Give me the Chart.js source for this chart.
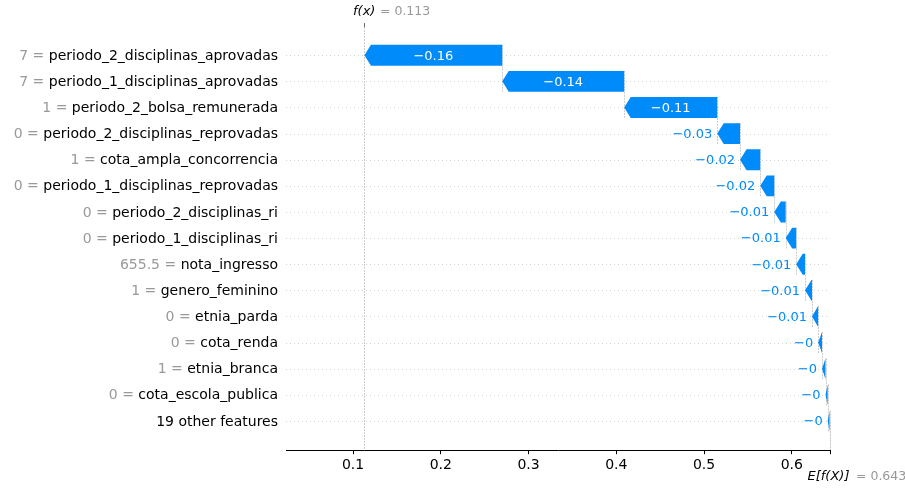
<!DOCTYPE html>
<html>
<head>
<meta charset="utf-8">
<script src="https://cdn.jsdelivr.net/npm/chart.js@4"></script>
<style>
  html, body { margin: 0; padding: 0; background: #fff; }
  #wrap { width: 905px; height: 488px; }
</style>
</head>
<body>
<div id="wrap"><canvas id="grafico" width="905" height="488"></canvas></div>
<script>
// Contribuições SHAP, de cima para baixo
const nomesFeatures = [
  'periodo_2_disciplinas_aprovadas',
  'periodo_1_disciplinas_aprovadas',
  'periodo_2_bolsa_remunerada',
  'periodo_2_disciplinas_reprovadas',
  'cota_ampla_concorrencia',
  'periodo_1_disciplinas_reprovadas',
  'periodo_2_disciplinas_ri',
  'periodo_1_disciplinas_ri',
  'nota_ingresso',
  'genero_feminino',
  'etnia_parda',
  'cota_renda',
  'etnia_branca',
  'cota_escola_publica',
  '19 other features'
];
const valoresFeatures = ['7', '7', '1', '0', '1', '0', '0', '0', '655.5', '1', '0', '0', '1', '0', null];
const valoresShap = [-0.157, -0.139, -0.106, -0.026, -0.023, -0.016, -0.013, -0.012, -0.010, -0.008, -0.007, -0.0044, -0.004, -0.0025, -0.0021];
const valorBase = 0.643;   // E[f(X)]
const valorSaida = 0.113;  // f(x)
const limitesX = [0.0236, 0.6435];

const AZUL = '#008bfb';
const CINZA = '#999999';
const FONTE = '"DejaVu Sans", sans-serif';

// mesmo formato do shap: remove zeros finais e usa o sinal de menos tipográfico
function formatarValor(v, casas) {
  let s = v.toFixed(casas).replace(/\.?0+$/, '');
  if (s[0] === '-') s = '\u2212' + s.slice(1);
  return s;
}

// cada barra parte de f(x) e caminha até E[f(X)]
const faixas = [];
let acumulado = valorSaida;
valoresShap.forEach(v => {
  faixas.push([acumulado, acumulado - v]);
  acumulado -= v;
});

const waterfall = {
  id: 'waterfall',
  beforeDatasetsDraw(chart) {
    const { ctx, chartArea: a, scales: { x, y } } = chart;
    ctx.save();
    // linhas pontilhadas de cada linha
    ctx.strokeStyle = '#d2d2d2';
    ctx.lineWidth = 1;
    ctx.setLineDash([1, 3]);
    nomesFeatures.forEach((_, i) => {
      const py = Math.round(y.getPixelForValue(i)) + 0.5;
      ctx.beginPath();
      ctx.moveTo(a.left, py);
      ctx.lineTo(a.right, py);
      ctx.stroke();
    });
    // ligações verticais tracejadas
    ctx.strokeStyle = '#cccccc';
    ctx.setLineDash([2, 1]);
    const linhaV = (valor, y0, y1) => {
      const px = Math.round(x.getPixelForValue(valor)) + 0.5;
      const t = Math.max(a.top, Math.min(y0, y1));
      const b = Math.min(a.bottom, Math.max(y0, y1));
      ctx.beginPath();
      ctx.moveTo(px, t);
      ctx.lineTo(px, b);
      ctx.stroke();
    };
    linhaV(valorSaida, a.top, a.bottom);
    linhaV(valorBase, a.bottom - (a.bottom - a.top) / nomesFeatures.length, a.bottom);
    faixas.forEach((f, i) => linhaV(f[1], y.getPixelForValue(i - 0.4), y.getPixelForValue(i + 1.4)));
    ctx.restore();
  },
  beforeDatasetDraw(chart, args) {
    const { ctx } = chart;
    const meta = args.meta;
    ctx.save();
    ctx.font = '13px ' + FONTE;
    ctx.textBaseline = 'middle';
    meta.data.forEach((el, i) => {
      const p = el.getProps(['x', 'base', 'y', 'height'], true);
      const l = Math.min(p.x, p.base), r = Math.max(p.x, p.base);
      const cabeca = Math.min(r - l, 6.5);
      const t = p.y - p.height / 2, b = p.y + p.height / 2;
      ctx.fillStyle = AZUL;
      ctx.beginPath();
      ctx.moveTo(r, t);
      ctx.lineTo(l + cabeca, t);
      ctx.lineTo(l, p.y);
      ctx.lineTo(l + cabeca, b);
      ctx.lineTo(r, b);
      ctx.closePath();
      ctx.fill();

      const txt = formatarValor(valoresShap[i], 2);
      const w = ctx.measureText(txt).width;
      if (w < r - l) {
        ctx.fillStyle = '#ffffff';
        ctx.textAlign = 'center';
        ctx.fillText(txt, (l + r) / 2, p.y + 1);
      } else {
        ctx.fillStyle = AZUL;
        ctx.textAlign = 'right';
        ctx.fillText(txt, l - 5, p.y + 1);
      }
    });
    ctx.restore();
    return false;
  },
  afterDraw(chart) {
    const { ctx, chartArea: a, scales: { x, y } } = chart;
    ctx.save();
    // rótulos das features: valor em cinza, nome em preto
    ctx.font = '14px ' + FONTE;
    ctx.textBaseline = 'middle';
    ctx.textAlign = 'right';
    const xr = a.left - 8;
    nomesFeatures.forEach((nome, i) => {
      const py = y.getPixelForValue(i) + 1;
      ctx.fillStyle = '#000000';
      ctx.fillText(nome, xr, py);
      if (valoresFeatures[i] !== null) {
        const wn = ctx.measureText(' ' + nome).width;
        ctx.fillStyle = CINZA;
        ctx.fillText(valoresFeatures[i] + ' =', xr - wn, py);
      }
    });

    // marcas extras em f(x) e E[f(X)]
    ctx.lineWidth = 1;
    ctx.strokeStyle = '#000000';
    const pxBase = Math.round(x.getPixelForValue(valorBase)) + 0.5;
    ctx.beginPath();
    ctx.moveTo(pxBase, a.bottom);
    ctx.lineTo(pxBase, a.bottom + 4);
    ctx.stroke();
    const pxSaida = Math.round(x.getPixelForValue(valorSaida)) + 0.5;
    ctx.strokeStyle = '#666666';
    ctx.beginPath();
    ctx.moveTo(pxSaida, a.top - 4);
    ctx.lineTo(pxSaida, a.top);
    ctx.stroke();

    // textos f(x) e E[f(X)]
    ctx.textAlign = 'left';
    ctx.font = 'italic 13px ' + FONTE;
    ctx.fillStyle = '#000000';
    ctx.fillText('f(x)', pxSaida - 11.5, 12);
    ctx.font = '12.5px ' + FONTE;
    ctx.fillStyle = CINZA;
    ctx.fillText('= ' + formatarValor(valorSaida, 3), pxSaida + 15.5, 12);

    ctx.font = 'italic 13px ' + FONTE;
    ctx.fillStyle = '#000000';
    ctx.fillText('E[f(X)]', pxBase - 23, 477);
    ctx.font = '12.5px ' + FONTE;
    ctx.fillStyle = CINZA;
    ctx.fillText('= ' + formatarValor(valorBase, 3), pxBase + 25.5, 477);
    ctx.restore();
  }
};

new Chart(document.getElementById('grafico'), {
  type: 'bar',
  data: {
    datasets: [{
      data: faixas.map((f, i) => ({ y: i, x: f })),
      backgroundColor: AZUL,
      categoryPercentage: 1.0,
      barPercentage: 0.8
    }]
  },
  options: {
    indexAxis: 'y',
    responsive: false,
    animation: false,
    layout: { padding: { left: 286, right: 75, top: 27, bottom: 11 } },
    plugins: { legend: { display: false }, tooltip: { enabled: false } },
    scales: {
      y: {
        type: 'linear',
        reverse: true,
        min: -1.08,
        max: 15.12,
        offset: false,
        display: false
      },
      x: {
        type: 'linear',
        min: limitesX[0],
        max: limitesX[1],
        offset: false,
        grid: { drawOnChartArea: false, drawTicks: true, tickLength: 4, color: '#000000' },
        border: { display: true, color: '#000000', width: 1 },
        ticks: {
          stepSize: 0.1,
          includeBounds: false,
          padding: 3,
          color: '#000000',
          font: { family: 'DejaVu Sans', size: 14 },
          callback: v => formatarValor(v, 1)
        }
      }
    }
  },
  plugins: [waterfall]
});
</script>
</body>
</html>
